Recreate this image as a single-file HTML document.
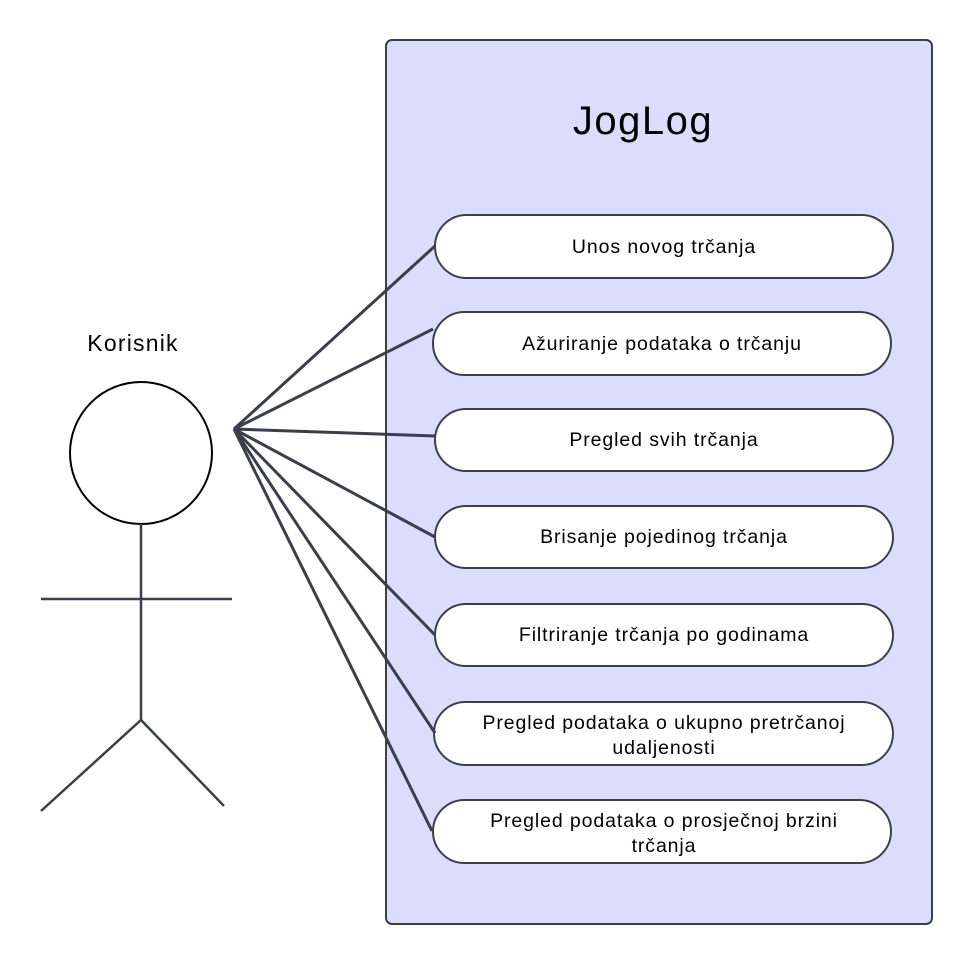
<!DOCTYPE html>
<html><head><meta charset="utf-8"><style>
body{margin:0;background:#fff;}
svg text{font-family:"Liberation Sans",sans-serif;fill:#000;}
</style></head><body>
<svg width="972" height="965" viewBox="0 0 972 965" xmlns="http://www.w3.org/2000/svg">
<rect x="386" y="40" width="546" height="884" rx="6" fill="#dcdcfc" stroke="#3a3f4a" stroke-width="2"/>
<text x="643" y="134" font-size="40" text-anchor="middle" letter-spacing="1.5">JogLog</text>
<g fill="#fff" stroke="#3a3f4a" stroke-width="2">
<rect x="435" y="215" width="458" height="63" rx="31.5"/>
<rect x="433" y="312" width="458" height="63" rx="31.5"/>
<rect x="435" y="409" width="458" height="62" rx="31"/>
<rect x="435" y="506" width="458" height="62" rx="31"/>
<rect x="435" y="604" width="458" height="62" rx="31"/>
<rect x="434" y="702" width="459" height="63" rx="31.5"/>
<rect x="433" y="800" width="458" height="63" rx="31.5"/>
</g>
<g font-size="19.5" text-anchor="middle" letter-spacing="0.9">
<text x="664" y="253">Unos novog trčanja</text>
<text x="662" y="350">Ažuriranje podataka o trčanju</text>
<text x="664" y="446">Pregled svih trčanja</text>
<text x="664" y="543">Brisanje pojedinog trčanja</text>
<text x="664" y="641">Filtriranje trčanja po godinama</text>
<text x="664" y="729">Pregled podataka o ukupno pretrčanoj</text>
<text x="664" y="754">udaljenosti</text>
<text x="664" y="827">Pregled podataka o prosječnoj brzini</text>
<text x="664" y="852">trčanja</text>
</g>
<g stroke="#3a3f4a" stroke-width="3" fill="none">
<line x1="234" y1="429" x2="435" y2="246"/>
<line x1="234" y1="429" x2="433" y2="329"/>
<line x1="234" y1="429" x2="435" y2="436"/>
<line x1="234" y1="429" x2="435" y2="537"/>
<line x1="234" y1="429" x2="435" y2="635"/>
<line x1="234" y1="429" x2="435" y2="733"/>
<line x1="234" y1="429" x2="432" y2="831"/>
</g>
<text x="133" y="351" font-size="23" text-anchor="middle" letter-spacing="1.2">Korisnik</text>
<g stroke="#3a3f4a" stroke-width="2.5" fill="none">
<circle cx="141" cy="453" r="71" fill="#fff" stroke="#000" stroke-width="2"/>
<line x1="141" y1="524" x2="141" y2="720"/>
<line x1="41" y1="599" x2="232" y2="599"/>
<line x1="141" y1="720" x2="41" y2="811"/>
<line x1="141" y1="720" x2="224" y2="806"/>
</g>
</svg>
</body></html>
